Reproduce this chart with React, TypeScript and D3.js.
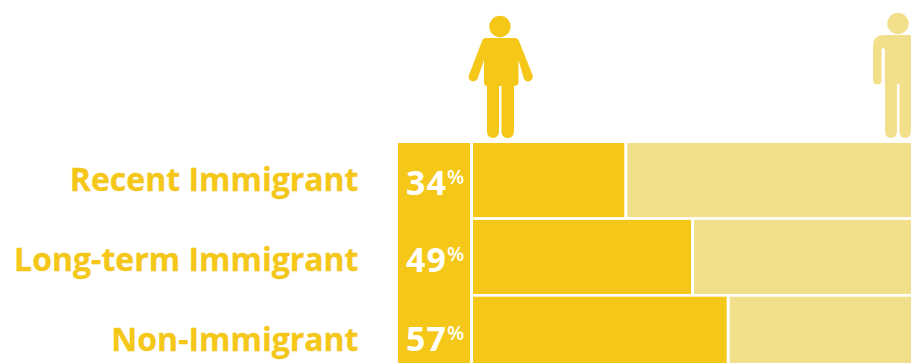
import React from "react";
import * as d3 from "d3";

const categories = ["Recent Immigrant", "Long-term Immigrant", "Non-Immigrant"];
const shares = [34, 49, 57];
const labelBaselines = [190.5, 270.5, 350.5];
const valueBaselines = [195, 272, 350.5];

const DARK = "#f4c718";
const LIGHT = "#f2df8c";
const FONT = "'Open Sans', sans-serif";

const x = d3.scaleLinear().domain([0, 100]).range([473, 918]);
const y = d3.scaleBand<string>().domain(categories).range([143, 370.8]).paddingInner(0.0353).paddingOuter(0);

// Standing figure with arms angled away from the body.
function FigureA() {
  return (
    <g fill={DARK}>
      <circle cx={500} cy={26.5} r={10.7} />
      <path d="M486 38 H515 Q518 38 519 41 L532.500 75 Q534 79 530 81 Q526 82.500 524 79 L518.500 60 V82 Q518.500 86 514 86 V131 Q514 138 507.500 138 Q501.500 138 501.500 131 V86 H499 V131 Q499 138 493 138 Q487 138 487 131 V86 Q484 86 484 82 V60 L477.500 79 Q475 82.500 471 81 Q467.500 79 469 75 L482 41 Q483 38 486 38 Z" />
    </g>
  );
}

// Front-facing figure with arms straight down.
function FigureB() {
  return (
    <g fill={LIGHT}>
      <circle cx={898} cy={23.5} r={10.7} />
      <path d="M884 35 H912 Q923 35 923 46 V80 Q923 84.500 919 84.500 Q915 84.500 915 80 V50 H911 V131 Q911 138 905 138 Q899.500 138 899.500 131 V84 H897 V131 Q897 138 891 138 Q885 138 885 131 V51 Q885 48 883 48 Q881.500 48 881.500 51 V80 Q881.500 84.500 877.500 84.500 Q873 84.500 873 80 V46 Q873 35 884 35 Z" />
    </g>
  );
}

export default function App() {
  return (
    <>
      <style>{"html,body{margin:0;padding:0;background:#fff;overflow:hidden}"}</style>
      <svg width={911} height={363} viewBox="0 0 911 363" style={{ display: "block" }} fontFamily={FONT}>
        <FigureA />
        <FigureB />
        <rect x={398} y={143} width={72} height={220} fill={DARK} />
        {categories.map((c, i) => {
          const top = y(c) as number;
          return (
            <g key={c}>
              <rect x={x(0)} y={top} width={x(shares[i]) - x(0)} height={y.bandwidth()} fill={DARK} />
              <rect x={x(shares[i]) + 3} y={top} width={x(100) - x(shares[i]) - 3} height={y.bandwidth()} fill={LIGHT} />
              <text x={358.500} y={labelBaselines[i]} textAnchor="end" fontSize={32} fontWeight={700} fill={DARK} stroke={DARK} strokeWidth={0.3}>
                {c}
              </text>
              <text x={406} y={valueBaselines[i]} fontSize={34} fontWeight={700} fill="#fff" letterSpacing={1}>
                {shares[i]}
                <tspan fontSize={20} fontWeight={600} dy={-11} letterSpacing={0}>%</tspan>
              </text>
            </g>
          );
        })}
      </svg>
    </>
  );
}
